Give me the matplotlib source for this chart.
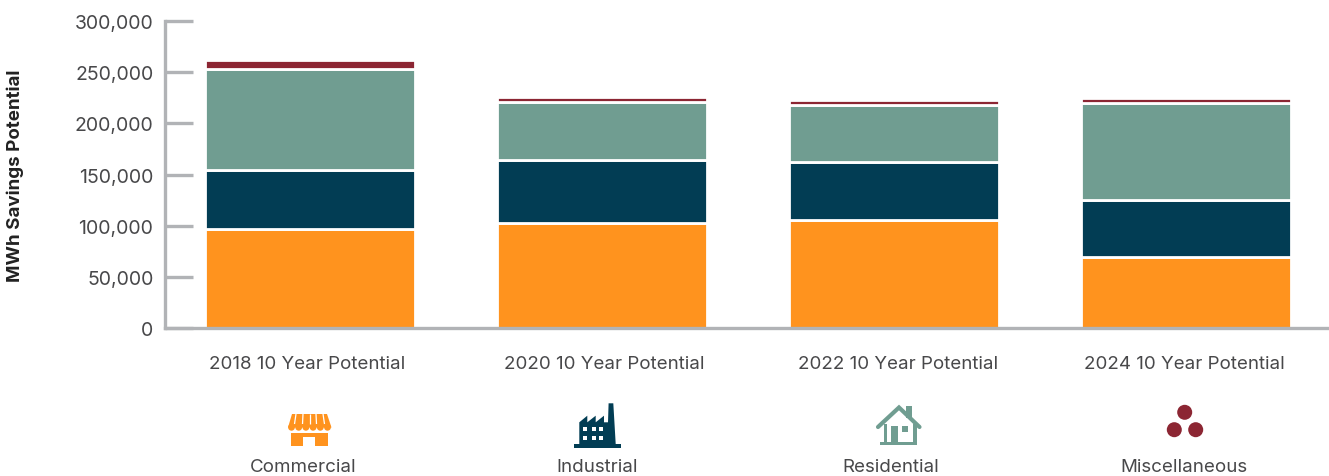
import matplotlib
matplotlib.use("Agg")
import matplotlib.pyplot as plt
from matplotlib.patches import Circle, Polygon, Rectangle
from matplotlib.ticker import FuncFormatter

W, H = 1329, 477
FONT = "Inter"
TXT = "#48484a"
GRAY = "#b1b3b6"

years = ["2018 10 Year Potential", "2020 10 Year Potential",
         "2022 10 Year Potential", "2024 10 Year Potential"]
commercial = [96500, 103000, 105500, 69500]
industrial = [57500, 61500, 57000, 55500]
residential = [99500, 56500, 55500, 95000]
miscellaneous = [8500, 5000, 4500, 4500]

seg_names = ["Commercial", "Industrial", "Residential", "Miscellaneous"]
seg_colors = ["#ff931e", "#023d54", "#709d91", "#8c2633"]
yticks = [0, 50000, 100000, 150000, 200000, 250000, 300000]


def store_icon(ov, c):
    # awning with scalloped hem, then the shop front and door
    ov.add_patch(Polygon([(292, 415), (327, 415), (331.5, 428.5), (288, 428.5)], fc=c, ec="none"))
    for x0, x1 in [(296, 294.5), (303, 302.5), (309.5, 309.5), (316, 316.5), (323, 324.5)]:
        ov.plot([x0, x1], [415, 425], color="white", lw=0.9, solid_capstyle="butt")
    for i in range(6):
        ov.add_patch(Circle((291.5 + i * 7.2, 428.3), 3.4, fc=c, ec="none"))
    ov.add_patch(Rectangle((291, 433.5), 37, 13.5, fc=c, ec="none"))
    ov.add_patch(Rectangle((303, 438), 12, 9, fc="white", ec="none"))


def factory_icon(ov, c):
    ov.add_patch(Polygon([(579.3, 445), (579.3, 423.3), (587.3, 416.7), (587.3, 423.3), (595.7, 416.7),
                          (595.7, 423.3), (604, 416.7), (604, 423.3), (608, 423.3), (608.6, 404.3),
                          (613.3, 404.3), (615.7, 445)], fc=c, ec="none"))
    ov.add_patch(Rectangle((574.3, 445), 46.4, 4, fc=c, ec="none"))
    for wx in (583.3, 591.7, 599.3):
        for wy in (428, 436.5):
            ov.add_patch(Rectangle((wx, wy), 4, 4, fc="white", ec="none"))


def house_icon(ov, c):
    ov.add_patch(Rectangle((905.7, 407), 6, 12, fc=c, ec="none"))
    ov.plot([878, 899, 919.5], [428, 408.5, 428], color=c, lw=3.0,
            solid_capstyle="round", solid_joinstyle="miter")
    ov.add_patch(Polygon([(883.5, 425), (883.5, 445), (887, 445), (887, 425)], fc=c, ec="none"))
    ov.add_patch(Polygon([(913, 425), (913, 445), (916.5, 445), (916.5, 425)], fc=c, ec="none"))
    ov.add_patch(Rectangle((880, 443), 37, 2.6, fc=c, ec="none"))
    ov.add_patch(Rectangle((890.7, 427), 7.6, 16, fc=c, ec="none"))
    ov.add_patch(Rectangle((902, 427), 6, 6, fc=c, ec="none"))


def dots_icon(ov, c):
    for cx, cy in [(1184.7, 413.3), (1174.3, 430.7), (1195.7, 430.7)]:
        ov.add_patch(Circle((cx, cy), 7.5, fc=c, ec="none"))


fig = plt.figure(figsize=(W / 100, H / 100), dpi=100, facecolor="white")
ax = fig.add_axes([164.5 / W, 1 - 328.8 / H, (W - 164.5) / W, 306.5 / H])

# stacked bars, white outlines give the gaps between segments
bottom = [0, 0, 0, 0]
pos = list(range(len(years)))
for vals, col in zip([commercial, industrial, residential, miscellaneous], seg_colors):
    ax.bar(pos, vals, bottom=bottom, width=0.7226, color=col, edgecolor="white", linewidth=2.0, zorder=2)
    bottom = [b + v for b, v in zip(bottom, vals)]

ax.set_xlim((164.5 - 310) / 292, (W - 310) / 292)
ax.set_ylim(0, 300000)
ax.set_yticks(yticks)
ax.yaxis.set_major_formatter(FuncFormatter(lambda v, _: f"{int(v):,}"))
ax.set_xticks([])

for s in ("top", "right"):
    ax.spines[s].set_visible(False)
for s in ("left", "bottom"):
    ax.spines[s].set_color(GRAY)
    ax.spines[s].set_linewidth(2.4)
    ax.spines[s].set_zorder(3)
ax.tick_params(axis="y", direction="in", length=20.5, width=2.4, color=GRAY, pad=8,
               labelsize=14, labelcolor=TXT)
for t in ax.get_yticklabels():
    t.set_fontfamily(FONT)

# overlay in pixel units for the labels and the icon legend
ov = fig.add_axes([0, 0, 1, 1], facecolor="none")
ov.set_xlim(0, W)
ov.set_ylim(H, 0)
ov.axis("off")

ov.text(15.5, 175.5, "MWh Savings Potential", rotation=90, ha="center", va="center",
        fontsize=13.5, fontweight="bold", color="#222222", family=FONT)

for x, lab in zip([307, 604.5, 898, 1184.5], years):
    ov.text(x, 364.5, lab, ha="center", va="center", fontsize=13.5, color=TXT, family=FONT)

for x, lab in zip([303.5, 597, 890.5, 1184], seg_names):
    ov.text(x, 467.5, lab, ha="center", va="center", fontsize=13.5, color=TXT, family=FONT)

for fn, col in zip([store_icon, factory_icon, house_icon, dots_icon], seg_colors):
    fn(ov, col)

fig.savefig("out.png", dpi=100, facecolor="white")
